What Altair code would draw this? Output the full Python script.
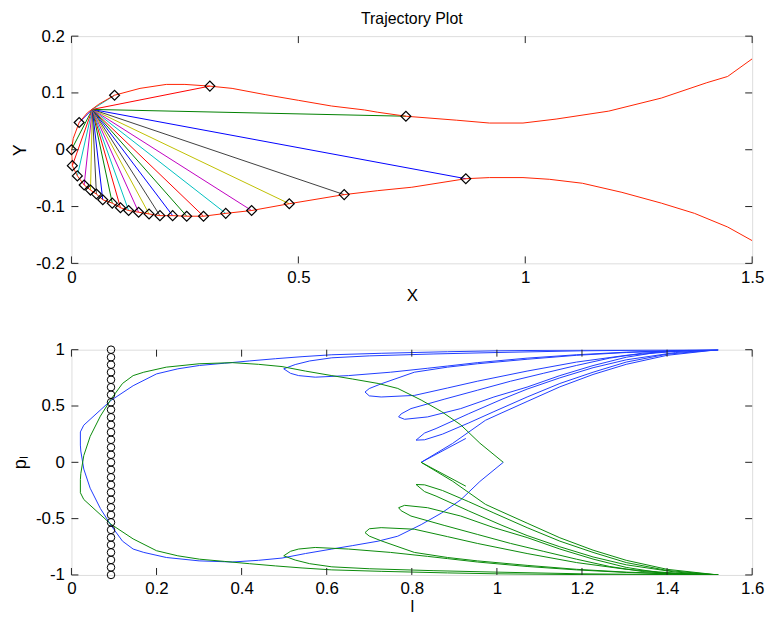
import altair as alt
import pandas as pd

FONT = "Liberation Sans"

# ---------------- top panel: trajectory ----------------
fan_center_x = 0.046
fan_center_y = 0.071

diamond_x = [0.017, 0.0, 0.002, 0.013, 0.028, 0.042, 0.055, 0.069, 0.090, 0.108,
             0.126, 0.148, 0.171, 0.195, 0.223, 0.254, 0.291, 0.340, 0.397, 0.480,
             0.601, 0.869, 0.737, 0.305, 0.095]
diamond_y = [0.048, 0.0, -0.028, -0.046, -0.062, -0.071, -0.078, -0.088, -0.094, -0.102,
             -0.107, -0.110, -0.113, -0.116, -0.116, -0.117, -0.117, -0.112, -0.107, -0.095,
             -0.079, -0.051, 0.059, 0.112, 0.096]

red_x = [1.5, 1.446, 1.40, 1.30, 1.184, 1.068, 0.995, 0.921, 0.849, 0.737, 0.675, 0.646,
         0.573, 0.5, 0.427, 0.354, 0.305, 0.25, 0.209, 0.151, 0.095, 0.06, 0.035, 0.017,
         0.004, 0.0, 0.002, 0.013, 0.028, 0.042, 0.055, 0.069, 0.090, 0.108, 0.126, 0.148,
         0.171, 0.195, 0.223, 0.254, 0.291, 0.340, 0.397, 0.480, 0.601, 0.675, 0.75, 0.869,
         0.921, 0.995, 1.053, 1.126, 1.213, 1.30, 1.373, 1.446, 1.5]
red_y = [0.160, 0.129, 0.118, 0.091, 0.068, 0.054, 0.047, 0.047, 0.052, 0.059, 0.066, 0.070,
         0.077, 0.087, 0.097, 0.108, 0.112, 0.115, 0.115, 0.108, 0.096, 0.080, 0.065, 0.048,
         0.020, 0.0, -0.028, -0.046, -0.062, -0.071, -0.078, -0.088, -0.094, -0.102, -0.107, -0.110,
         -0.113, -0.116, -0.116, -0.117, -0.117, -0.112, -0.107, -0.095, -0.079, -0.072, -0.066, -0.051,
         -0.049, -0.049, -0.052, -0.059, -0.075, -0.094, -0.112, -0.136, -0.160]

top_xticks = [0, 0.5, 1, 1.5]
top_yticks = [-0.2, -0.1, 0, 0.1, 0.2]

color_cycle = ["#0000ff", "#008000", "#ff0000", "#00bfbf", "#bf00bf", "#bfbf00", "#404040"]

# ---------------- bottom panel: phase portrait ----------------
blue_main = [(1.015, 0.0), (0.96, -0.17), (0.915, -0.333), (0.87, -0.45), (0.822, -0.553),
             (0.767, -0.656), (0.721, -0.70), (0.66, -0.74), (0.612, -0.77), (0.55, -0.81),
             (0.495, -0.85), (0.44, -0.87), (0.378, -0.885), (0.30, -0.875), (0.223, -0.845),
             (0.17, -0.80), (0.145, -0.77), (0.12, -0.70), (0.093, -0.56), (0.068, -0.41),
             (0.044, -0.23), (0.029, -0.06), (0.022, 0.10), (0.021, 0.153), (0.021, 0.27),
             (0.029, 0.33), (0.093, 0.55), (0.145, 0.68), (0.2, 0.785), (0.25, 0.83),
             (0.301, 0.86), (0.36, 0.88), (0.418, 0.90), (0.48, 0.92), (0.542, 0.938),
             (0.612, 0.955), (0.728, 0.968), (0.884, 0.982), (1.0, 0.99), (1.2, 0.997),
             (1.35, 1.0), (1.52, 1.0)]
blue_t1_in = [(1.52, 1.0), (1.4, 0.997), (1.2, 0.99), (1.0, 0.975), (0.85, 0.962), (0.70, 0.945),
              (0.612, 0.928), (0.56, 0.90), (0.526, 0.868), (0.499, 0.83)]
blue_t1_out = [(0.499, 0.83), (0.515, 0.79), (0.534, 0.77), (0.573, 0.756), (0.651, 0.77),
               (0.75, 0.80), (0.837, 0.835), (0.884, 0.855), (0.954, 0.885), (1.071, 0.925),
               (1.187, 0.955), (1.304, 0.978), (1.42, 0.993), (1.52, 1.0)]
blue_t2_in = [(1.52, 1.0), (1.42, 0.99), (1.304, 0.975), (1.187, 0.95), (1.071, 0.915),
              (0.954, 0.875), (0.884, 0.845), (0.806, 0.80), (0.728, 0.697), (0.70, 0.655),
              (0.690, 0.624)]
blue_t2_out = [(0.690, 0.624), (0.70, 0.59), (0.728, 0.58), (0.806, 0.594), (0.884, 0.66),
               (0.954, 0.72), (1.071, 0.81), (1.187, 0.89), (1.304, 0.95), (1.42, 0.985), (1.52, 1.0)]
blue_t3_in = [(1.52, 1.0), (1.45, 0.995), (1.343, 0.97), (1.265, 0.925), (1.187, 0.86),
              (1.109, 0.79), (1.032, 0.72), (0.954, 0.64), (0.876, 0.56), (0.798, 0.477),
              (0.775, 0.43), (0.769, 0.403)]
blue_t3_out = [(0.769, 0.403), (0.783, 0.382), (0.837, 0.403), (0.915, 0.477), (0.993, 0.58),
               (1.071, 0.668), (1.148, 0.77), (1.226, 0.859), (1.304, 0.933), (1.382, 0.98), (1.52, 1.0)]
blue_t4_in = [(1.52, 1.0), (1.42, 0.975), (1.304, 0.91), (1.226, 0.84), (1.148, 0.75),
              (1.071, 0.65), (1.012, 0.56), (0.934, 0.432), (0.857, 0.30), (0.83, 0.26), (0.810, 0.197)]
blue_t4_out = [(0.810, 0.197), (0.83, 0.20), (0.872, 0.25), (0.934, 0.35), (0.993, 0.45),
               (1.071, 0.58), (1.148, 0.70), (1.226, 0.80), (1.304, 0.89), (1.40, 0.96), (1.52, 1.0)]
blue_t5_in = [(1.52, 1.0), (1.40, 0.95), (1.304, 0.87), (1.226, 0.78), (1.148, 0.67),
              (1.071, 0.54), (1.012, 0.44), (0.973, 0.373), (0.896, 0.168), (0.822, 0.0)]
blue_t5_tail = [(0.822, 0.0), (0.927, 0.212)]

green_main = [(1.015, 0.0), (0.96, 0.17), (0.915, 0.333), (0.87, 0.45), (0.822, 0.553),
              (0.767, 0.656), (0.721, 0.70), (0.66, 0.74), (0.612, 0.77), (0.55, 0.81),
              (0.495, 0.85), (0.44, 0.87), (0.378, 0.885), (0.30, 0.875), (0.223, 0.845),
              (0.17, 0.80), (0.145, 0.77), (0.12, 0.70), (0.093, 0.56), (0.068, 0.41),
              (0.044, 0.23), (0.029, 0.06), (0.022, -0.10), (0.021, -0.153), (0.021, -0.27),
              (0.029, -0.33), (0.093, -0.55), (0.145, -0.68), (0.2, -0.785), (0.25, -0.83),
              (0.301, -0.86), (0.36, -0.88), (0.418, -0.90), (0.48, -0.92), (0.542, -0.938),
              (0.612, -0.955), (0.728, -0.968), (0.884, -0.982), (1.0, -0.99), (1.2, -0.997),
              (1.35, -1.0), (1.52, -1.0)]
green_t1_in = [(1.52, -1.0), (1.4, -0.997), (1.2, -0.99), (1.0, -0.975), (0.85, -0.962), (0.70, -0.945),
               (0.612, -0.928), (0.56, -0.90), (0.526, -0.868), (0.499, -0.83)]
green_t1_out = [(0.499, -0.83), (0.515, -0.79), (0.534, -0.77), (0.573, -0.756), (0.651, -0.77),
                (0.75, -0.80), (0.837, -0.835), (0.884, -0.855), (0.954, -0.885), (1.071, -0.925),
                (1.187, -0.955), (1.304, -0.978), (1.42, -0.993), (1.52, -1.0)]
green_t2_in = [(1.52, -1.0), (1.42, -0.99), (1.304, -0.975), (1.187, -0.95), (1.071, -0.915),
               (0.954, -0.875), (0.884, -0.845), (0.806, -0.80), (0.728, -0.697), (0.70, -0.655),
               (0.690, -0.624)]
green_t2_out = [(0.690, -0.624), (0.70, -0.59), (0.728, -0.58), (0.806, -0.594), (0.884, -0.66),
                (0.954, -0.72), (1.071, -0.81), (1.187, -0.89), (1.304, -0.95), (1.42, -0.985), (1.52, -1.0)]
green_t3_in = [(1.52, -1.0), (1.45, -0.995), (1.343, -0.97), (1.265, -0.925), (1.187, -0.86),
               (1.109, -0.79), (1.032, -0.72), (0.954, -0.64), (0.876, -0.56), (0.798, -0.477),
               (0.775, -0.43), (0.769, -0.403)]
green_t3_out = [(0.769, -0.403), (0.783, -0.382), (0.837, -0.403), (0.915, -0.477), (0.993, -0.58),
                (1.071, -0.668), (1.148, -0.77), (1.226, -0.859), (1.304, -0.933), (1.382, -0.98), (1.52, -1.0)]
green_t4_in = [(1.52, -1.0), (1.42, -0.975), (1.304, -0.91), (1.226, -0.84), (1.148, -0.75),
               (1.071, -0.65), (1.012, -0.56), (0.934, -0.432), (0.857, -0.30), (0.83, -0.26), (0.810, -0.197)]
green_t4_out = [(0.810, -0.197), (0.83, -0.20), (0.872, -0.25), (0.934, -0.35), (0.993, -0.45),
                (1.071, -0.58), (1.148, -0.70), (1.226, -0.80), (1.304, -0.89), (1.40, -0.96), (1.52, -1.0)]
green_t5_in = [(1.52, -1.0), (1.40, -0.95), (1.304, -0.87), (1.226, -0.78), (1.148, -0.67),
               (1.071, -0.54), (1.012, -0.44), (0.973, -0.373), (0.896, -0.168), (0.822, 0.0)]
green_t5_tail = [(0.822, 0.0), (0.927, -0.212)]

circle_l = 0.093
circle_p = [-1.0, -0.933, -0.867, -0.8, -0.733, -0.667, -0.6, -0.533, -0.467, -0.4, -0.333,
            -0.267, -0.2, -0.133, -0.067, 0.0, 0.067, 0.133, 0.2, 0.267, 0.333, 0.4, 0.467,
            0.533, 0.6, 0.667, 0.733, 0.8, 0.867, 0.933, 1.0]

bot_xticks = [0, 0.2, 0.4, 0.6, 0.8, 1, 1.2, 1.4, 1.6]
bot_yticks = [-1, -0.5, 0, 0.5, 1]

# ---------------- build tables ----------------
fan_df = pd.DataFrame({
    "x": [fan_center_x] * len(diamond_x),
    "y": [fan_center_y] * len(diamond_x),
    "x2": diamond_x,
    "y2": diamond_y,
    "c": [color_cycle[i % len(color_cycle)] for i in range(len(diamond_x))],
})
dia_df = pd.DataFrame({"x": diamond_x, "y": diamond_y})
red_df = pd.DataFrame({"x": red_x, "y": red_y, "i": range(len(red_x))})


def path_df(segments):
    rows = []
    for seg in segments:
        for (l, p) in seg:
            rows.append({"x": l, "y": p, "i": len(rows)})
    return pd.DataFrame(rows)


blue_df = path_df([blue_main, blue_t1_in, blue_t1_out, blue_t2_in, blue_t2_out, blue_t3_in,
                   blue_t3_out, blue_t4_in, blue_t4_out, blue_t5_in, blue_t5_tail])
green_df = path_df([green_main, green_t1_in, green_t1_out, green_t2_in, green_t2_out, green_t3_in,
                    green_t3_out, green_t4_in, green_t4_out, green_t5_in, green_t5_tail])
circ_df = pd.DataFrame({"x": [circle_l] * len(circle_p), "y": circle_p})

W = 686
H1 = 229
H2 = 227
TICK = 7


def axis(values, title):
    return alt.Axis(values=values, title=title, ticks=False, domain=False, grid=False,
                    labelExpr="datum.value + ''", labelFont=FONT, labelFontSize=17,
                    labelColor="black", labelPadding=6, titleFont=FONT, titleFontSize=17,
                    titleColor="black", titleFontWeight="normal", titlePadding=2,
                    labelFlush=False, labelOverlap=False)


def yaxis(values, title):
    return alt.Axis(values=values, title=title, ticks=False, domain=False, grid=False,
                    labelExpr="datum.value + ''", labelFont=FONT, labelFontSize=17,
                    labelColor="black", labelPadding=7, titleFont=FONT, titleFontSize=18,
                    titleColor="black", titleFontWeight="normal", titlePadding=4,
                    minExtent=38, maxExtent=38, labelFlush=False, labelOverlap=False)


def panel(xdom, ydom, xt, yt, xtitle, ytitle, h, layers_fn):
    xs = alt.Scale(domain=xdom, nice=False, zero=False)
    ys = alt.Scale(domain=ydom, nice=False, zero=False)
    X = lambda f: alt.X(f, scale=xs, axis=axis(xt, xtitle), title=xtitle)
    Y = lambda f: alt.Y(f, scale=ys, axis=yaxis(yt, ytitle), title=ytitle)
    layers = layers_fn(X, Y)
    xt_df = pd.DataFrame({"x": xt})
    yt_df = pd.DataFrame({"y": yt})
    tick_style = dict(color="#222222", strokeWidth=1)
    ticks = [
        alt.Chart(xt_df).mark_rule(**tick_style).encode(x=X("x:Q"), y=alt.value(h), y2=alt.value(h - TICK)),
        alt.Chart(xt_df).mark_rule(**tick_style).encode(x=X("x:Q"), y=alt.value(0), y2=alt.value(TICK)),
        alt.Chart(yt_df).mark_rule(**tick_style).encode(y=Y("y:Q"), x=alt.value(0), x2=alt.value(TICK)),
        alt.Chart(yt_df).mark_rule(**tick_style).encode(y=Y("y:Q"), x=alt.value(W - TICK), x2=alt.value(W)),
    ]
    return alt.layer(*layers, *ticks).properties(width=W, height=h)


def top_layers(X, Y):
    fan = alt.Chart(fan_df).mark_rule(strokeWidth=1, clip=True).encode(
        x=X("x:Q"), y=Y("y:Q"), x2="x2:Q", y2="y2:Q", color=alt.Color("c:N", scale=None))
    red = alt.Chart(red_df).mark_line(color="#ff2200", strokeWidth=1, clip=True).encode(
        x=X("x:Q"), y=Y("y:Q"), order="i:Q")
    dia = alt.Chart(dia_df).mark_point(shape="diamond", filled=False, size=100, color="black",
                                       strokeWidth=1.2, opacity=1).encode(x=X("x:Q"), y=Y("y:Q"))
    return [fan, red, dia]


def bot_layers(X, Y):
    blue = alt.Chart(blue_df).mark_line(color="#1f3cff", strokeWidth=1, clip=True).encode(
        x=X("x:Q"), y=Y("y:Q"), order="i:Q")
    green = alt.Chart(green_df).mark_line(color="#0a8a0a", strokeWidth=1, clip=True).encode(
        x=X("x:Q"), y=Y("y:Q"), order="i:Q")
    circ = alt.Chart(circ_df).mark_point(shape="circle", filled=False, size=58, color="black",
                                         strokeWidth=1, opacity=1).encode(x=X("x:Q"), y=Y("y:Q"))
    return [blue, green, circ]


top = panel([0, 1.5], [-0.2, 0.2], top_xticks, top_yticks, "X", "Y", H1, top_layers).properties(
    title=alt.TitleParams("Trajectory Plot", font=FONT, fontSize=16, fontWeight="normal",
                          color="black", anchor="middle", offset=0))
bottom = panel([0, 1.6], [-1, 1], bot_xticks, bot_yticks, "l", "pₗ", H2, bot_layers)

chart = alt.vconcat(top, bottom, spacing=87, bounds="flush").properties(
    padding={"left": 11, "top": 8, "right": 8, "bottom": 2}
).configure_view(stroke="black", strokeWidth=1.5).configure(background="white")

chart.save("out.html", embed_options={"renderer": "svg", "actions": False})
